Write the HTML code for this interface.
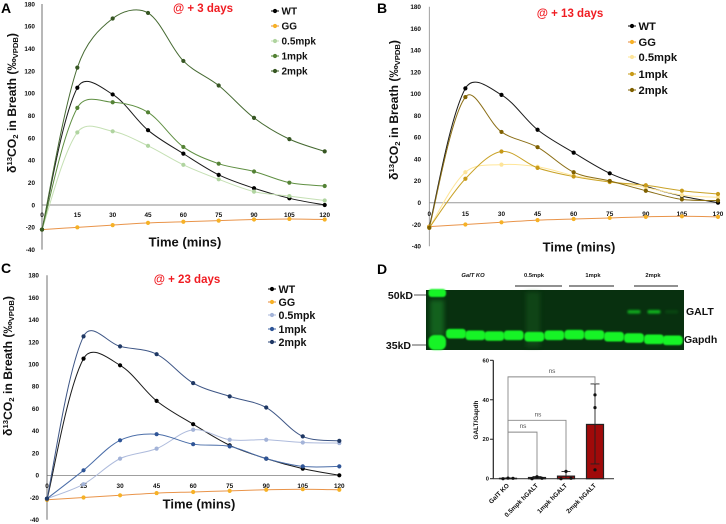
<!DOCTYPE html>
<html lang="en">
<head>
<meta charset="utf-8">
<title>Breath CO2 charts and GALT blot</title>
<style>
html,body{margin:0;padding:0;background:#fff;width:726px;height:524px;overflow:hidden}
svg{display:block;filter:blur(0.35px)}
text{font-family:"Liberation Sans",sans-serif;font-weight:bold;fill:#111}
</style>
</head>
<body>
<svg id="fig" xmlns="http://www.w3.org/2000/svg" width="726" height="524" viewBox="0 0 726 524">
<defs>
<filter id="soft" x="-40%" y="-60%" width="180%" height="220%"><feGaussianBlur stdDeviation="0.8"/></filter>
<filter id="softer" x="-60%" y="-100%" width="220%" height="300%"><feGaussianBlur stdDeviation="2.5"/></filter>
<filter id="galtblur" x="-60%" y="-150%" width="220%" height="400%"><feGaussianBlur stdDeviation="1.1"/></filter>
</defs>
</svg>
<script>
// ---- shared categories and tick labels ----
const timePoints = [0, 15, 30, 45, 60, 75, 90, 105, 120];
const yTicks = [-40, -20, 0, 20, 40, 60, 80, 100, 120, 140, 160, 180];
const seriesNames = ['WT', 'GG', '0.5mpk', '1mpk', '2mpk'];

// ---- panel A values ----
const aWT = [-22, 105, 99, 67, 46, 27, 15, 6, 0];
const aGG = [-22, -20, -18, -16, -15, -14, -13, -12.5, -13];
const aLow = [-22, 65, 66, 53, 36, 23, 12, 8, 4];
const aMid = [-22, 87, 92, 83, 52, 37, 30, 20, 17];
const aHigh = [-22, 123, 167, 172, 129, 107, 78, 59, 48];

// ---- panel B values ----
const bWT = [-22, 105, 99, 67, 46, 27, 15, 6, 0];
const bGG = [-22, -20, -18, -16, -15, -14, -13, -12.5, -13];
const bLow = [-23, 28, 35, 33, 25, 19, 14, 7, 5];
const bMid = [-23, 22, 47, 32, 24, 19, 16, 11, 8];
const bHigh = [-23, 97, 65, 51, 28, 20, 11, 3, 2];

// ---- panel C values ----
const cWT = [-22, 105, 99, 67, 46, 27, 15, 6, 0];
const cGG = [-22, -20, -18, -16, -15, -14, -13, -12.5, -13];
const cLow = [-21, -8, 15, 24, 41, 32, 32, 29.5, 29];
const cMid = [-21, 4.5, 31.5, 37, 28, 26, 15, 8, 8];
const cHigh = [-21, 125, 116, 109, 83, 71, 61, 35, 31];

// ---- bar chart values ----
const barCategories = ['GalT KO', '0.5mpk hGALT', '1mpk hGALT', '2mpk hGALT'];
const barMeans = [0.2, 0.6, 1.3, 27.5];
const barErrLow = [0.1, 0.1, 0, 7.5];
const barErrHigh = [0.4, 1.1, 3.7, 48];
const barPointsA = [0, 0, 0, 4.5];
const barPointsB = [0.3, 1, 3.7, 36];
const barPointsC = [0.2, 0.2, 0.2, 42.5];
const barTicks = [0, 20, 40, 60];

const NS = 'http://www.w3.org/2000/svg';
const fig = document.getElementById('fig');

function mk(tag, attrs, parent) {
  const el = document.createElementNS(NS, tag);
  for (const k in attrs) el.setAttribute(k, attrs[k]);
  (parent || fig).appendChild(el);
  return el;
}

function chord(a, b) {
  return Math.sqrt(Math.hypot(a[0] - b[0], a[1] - b[1])) || 0.001;
}

// Centripetal-weighted spline, close to spreadsheet "smoothed line" rendering
function smoothPath(pts) {
  let d = 'M' + pts[0][0].toFixed(2) + ' ' + pts[0][1].toFixed(2);
  for (let i = 0; i < pts.length - 1; i++) {
    const p0 = pts[Math.max(i - 1, 0)], p1 = pts[i], p2 = pts[i + 1], p3 = pts[Math.min(i + 2, pts.length - 1)];
    const mid = chord(p1, p2);
    const w1 = (i === 0 ? 0.5 : mid / (chord(p0, p1) + mid)) / 3;
    const w2 = (i === pts.length - 2 ? 0.5 : mid / (chord(p2, p3) + mid)) / 3;
    const c1x = p1[0] + (p2[0] - p0[0]) * w1, c1y = p1[1] + (p2[1] - p0[1]) * w1;
    const c2x = p2[0] - (p3[0] - p1[0]) * w2, c2y = p2[1] - (p3[1] - p1[1]) * w2;
    d += 'C' + c1x.toFixed(2) + ' ' + c1y.toFixed(2) + ' ' + c2x.toFixed(2) + ' ' + c2y.toFixed(2) + ' ' + p2[0].toFixed(2) + ' ' + p2[1].toFixed(2);
  }
  return d;
}

function drawPanel(cfg) {
  const g = mk('g', {});
  
  
  const xScale = v => cfg.x0 + (v / 120) * (cfg.x120 - cfg.x0);
  const yScale = v => cfg.y0 + (v / 180) * (cfg.y180 - cfg.y0);

  const yAxis = mk('line', {x1: cfg.x0, x2: cfg.x0, y1: yScale(180), y2: yScale(-40), stroke: cfg.axisColor, 'stroke-width': cfg.axisWidth}, g);
  
  
  const xAxis = mk('line', {x1: cfg.x0, x2: cfg.x120, y1: yScale(0), y2: yScale(0), stroke: cfg.zeroColor, 'stroke-width': cfg.zeroWidth}, g);
  
  

  yTicks.forEach(t => {
    const lab = mk('text', {x: cfg.yLabelX, y: yScale(t) + 2.3, 'text-anchor': 'end', 'font-size': 6.4, fill: '#333'}, g);
    
    
    lab.textContent = t;
  });
  timePoints.forEach(t => {
    const lab = mk('text', {x: xScale(t), y: cfg.xLabelY, 'text-anchor': 'middle', 'font-size': 6.4, fill: '#333'}, g);
    
    
    lab.textContent = t;
  });

  cfg.series.forEach((values, si) => {
    const style = cfg.styles[si];
    const pts = values.map((v, i) => [xScale(timePoints[i]), yScale(v)]);
    const line = mk('path', {d: smoothPath(pts), fill: 'none', stroke: style.line, 'stroke-width': style.w}, g);
    
    
    pts.forEach(p => {
      const dot = mk('circle', {cx: p[0], cy: p[1], r: 2.1, fill: style.dot}, g);
      
      
    });
  });

  seriesNames.forEach((name, i) => {
    const style = cfg.styles[i];
    const ly = cfg.legendY[i];
    const entry = mk('g', {}, g);
    
    
    mk('line', {x1: cfg.legendX - 4, x2: cfg.legendX + 4, y1: ly, y2: ly, stroke: style.line, 'stroke-width': 1.1}, entry);
    mk('circle', {cx: cfg.legendX, cy: ly, r: 2.1, fill: style.dot}, entry);
    const t = mk('text', {x: cfg.legendX + 6.5, y: ly + cfg.legendFont * 0.36, 'font-size': cfg.legendFont}, entry);
    t.textContent = name;
  });

  const title = mk('text', {x: cfg.titleX, y: cfg.titleY + 4, 'text-anchor': 'middle', 'font-size': cfg.titleFont, style: 'fill:#f01c22'}, g);
  
  
  title.textContent = cfg.title;

  const xTitle = mk('text', {x: cfg.xTitleX, y: cfg.xTitleY + 4.5, 'text-anchor': 'middle', 'font-size': 13}, g);
  
  
  xTitle.textContent = 'Time (mins)';

  const yTitle = mk('text', {transform: 'translate(' + (cfg.yTitleX + 4) + ' ' + cfg.yTitleY + ') rotate(-90)', 'text-anchor': 'middle', 'font-size': 12, textLength: 140, lengthAdjust: 'spacingAndGlyphs'}, g);
  
  
  [['δ', 12, 0], ['13', 7.5, -4], ['CO', 12, 4], ['2', 7.5, 2], [' in Breath (‰', 12, -2], ['VPDB', 7.5, 2], [')', 12, -2]].forEach(part => {
    const s = mk('tspan', {'font-size': part[1], dy: part[2]}, yTitle);
    s.textContent = part[0];
  });

  const letter = mk('text', {x: cfg.letterX, y: cfg.letterY, 'font-size': 14, style: 'fill:#000'}, g);
  
  
  letter.textContent = cfg.id;
}

const black = {line: '#1a1a1a', dot: '#000', w: 1};
const orange = {line: '#e9944a', dot: '#f6b126', w: 1};

drawPanel({
  id: 'A', title: '@ + 3 days', titleX: 203, titleY: 8, titleFont: 11.5,
  x0: 42, x120: 324.7, y0: 205, y180: 4,
  yLabelX: 35, xLabelY: 217, axisColor: '#b8b8b8', axisWidth: 2, zeroColor: '#666', zeroWidth: 0.7,
  series: [aWT, aGG, aLow, aMid, aHigh],
  styles: [black, orange, {line: '#c5e0b4', dot: '#b0d4a0', w: 1}, {line: '#5f8f42', dot: '#548235', w: 1}, {line: '#466a32', dot: '#375623', w: 1}],
  legendX: 275, legendY: [11, 26, 41, 56, 71], legendFont: 10,
  xTitleX: 185, xTitleY: 242, yTitleX: 12, yTitleY: 103, letterX: 1, letterY: 13
});

drawPanel({
  id: 'B', title: '@ + 13 days', titleX: 570, titleY: 13, titleFont: 11.5,
  x0: 429.3, x120: 718, y0: 202.7, y180: 6.7,
  yLabelX: 421, xLabelY: 216, axisColor: '#888', axisWidth: 0.8, zeroColor: '#999', zeroWidth: 1,
  series: [bWT, bGG, bLow, bMid, bHigh],
  styles: [black, orange, {line: '#ffe699', dot: '#fde49a', w: 1}, {line: '#c9a227', dot: '#c89a18', w: 1}, {line: '#8a6d14', dot: '#7f6000', w: 1}],
  legendX: 632, legendY: [26, 42, 57, 74, 90], legendFont: 11.2,
  xTitleX: 579, xTitleY: 247, yTitleX: 394, yTitleY: 110, letterX: 377, letterY: 13
});

drawPanel({
  id: 'C', title: '@ + 23 days', titleX: 187, titleY: 279, titleFont: 11.5,
  x0: 47, x120: 339.3, y0: 475.3, y180: 275.3,
  yLabelX: 39, xLabelY: 488, axisColor: '#b8b8b8', axisWidth: 2, zeroColor: '#666', zeroWidth: 0.7,
  series: [cWT, cGG, cLow, cMid, cHigh],
  styles: [black, orange, {line: '#aebbdc', dot: '#a3b3d8', w: 1}, {line: '#4a6da8', dot: '#2f5597', w: 1}, {line: '#3d5585', dot: '#1f3864', w: 1}],
  legendX: 272, legendY: [289, 302, 315, 329, 342], legendFont: 10.7,
  xTitleX: 199, xTitleY: 504, yTitleX: 8, yTitleY: 366, letterX: 1, letterY: 273
});

// ---- Panel D: western blot ----
(function () {
  const g = mk('g', {});
  
  
  const letter = mk('text', {x: 377, y: 274, 'font-size': 14, style: 'fill:#000'}, g);
  
  
  letter.textContent = 'D';

  const bg = mk('rect', {x: 426, y: 290, width: 258, height: 60, fill: '#08300f'}, g);
  
  
  mk('rect', {x: 526, y: 292, width: 14, height: 55, fill: '#17561f', opacity: 0.55, filter: 'url(#softer)'}, g);
  mk('rect', {x: 430, y: 300, width: 14, height: 36, fill: '#1f8a2a', opacity: 0.55, filter: 'url(#softer)'}, g);

  const laneX = [258, 316, 373, 431, 493, 553, 613, 673, 732, 792, 852, 908];
  const laneY = [215, 220, 222, 220, 224, 220, 218, 219, 224, 228, 232, 235];
  const band = '#16f426';
  mk('rect', {x: 428.5, y: 289, width: 17.5, height: 8, rx: 3, fill: band, filter: 'url(#soft)'}, g);
  mk('rect', {x: 428.5, y: 335, width: 17.5, height: 15, rx: 6, fill: band, filter: 'url(#soft)'}, g);
  laneX.forEach((lx, i) => {
    const b = mk('rect', {x: 370 + lx / 3 - 10, y: 262 + laneY[i] / 3 - 4.8, width: 20, height: 9.6, rx: 3.5, fill: band, filter: 'url(#soft)'}, g);
    
    
  });
  [[792, 0.6], [852, 0.65], [905, 0.1]].forEach(b => {
    const r = mk('rect', {x: 370 + b[0] / 3 - 6.5, y: 310, width: 13, height: 3.6, rx: 1.5, fill: band, opacity: b[1], filter: 'url(#galtblur)'}, g);
    
    
  });

  [['50kD', 295, 413], ['35kD', 345, 411]].forEach(m => {
    const t = mk('text', {x: m[2], y: m[1] + 4, 'text-anchor': 'end', 'font-size': 10.5}, g);
    
    
    t.textContent = m[0];
    mk('line', {x1: m[2] + 1, x2: 426, y1: m[1], y2: m[1], stroke: '#555', 'stroke-width': 1}, g);
  });
  [['GALT', 686, 315], ['Gapdh', 684, 343]].forEach(m => {
    const t = mk('text', {x: m[1], y: m[2], 'font-size': 10.5}, g);
    
    
    t.textContent = m[0];
  });
  [['GalT KO', 473, 'italic'], ['0.5mpk', 534, 'normal'], ['1mpk', 593, 'normal'], ['2mpk', 653, 'normal']].forEach(m => {
    const t = mk('text', {x: m[1], y: 277, 'text-anchor': 'middle', 'font-size': 5.8, 'font-style': m[2], fill: '#333'}, g);
    
    
    t.textContent = m[0];
  });
  [[515, 562], [569, 614], [634, 678]].forEach(m => {
    const l = mk('line', {x1: m[0], x2: m[1], y1: 286, y2: 286, stroke: '#222', 'stroke-width': 1}, g);
    
    
  });
})();

// ---- Panel D: bar chart ----
(function () {
  const g = mk('g', {});
  
  
  const yScale = v => 478.7 - (v / 60) * 118.4;
  const xScale = i => 508 + i * 29;

  const axisY = mk('line', {x1: 493.3, x2: 493.3, y1: yScale(60), y2: yScale(0), stroke: '#222', 'stroke-width': 1.2}, g);
  
  
  const axisX = mk('line', {x1: 493, x2: 614, y1: yScale(0), y2: yScale(0), stroke: '#444', 'stroke-width': 1.2}, g);
  
  

  barTicks.forEach(t => {
    mk('line', {x1: 490, x2: 493.3, y1: yScale(t), y2: yScale(t), stroke: '#222', 'stroke-width': 1}, g);
    const lab = mk('text', {x: 489, y: yScale(t) + 2, 'text-anchor': 'end', 'font-size': 5.8, fill: '#333'}, g);
    
    
    lab.textContent = t;
  });

  const yt = mk('text', {transform: 'translate(478 420) rotate(-90)', 'text-anchor': 'middle', 'font-size': 6.4}, g);
  
  
  yt.textContent = 'GALT/Gapdh';

  // significance brackets: end bar index, bracket value, label x offset, end value
  [[3, 51.6, 44, 48.5], [2, 29.6, 30, 3.8], [1, 23.6, 15, 1.5]].forEach(b => {
    const y = yScale(b[1]);
    const p = mk('path', {d: 'M' + xScale(0) + ' ' + yScale(0) + 'V' + y + 'H' + xScale(b[0]) + 'V' + yScale(b[3]), fill: 'none', stroke: '#888', 'stroke-width': 0.9}, g);
    
    
    const t = mk('text', {x: xScale(0) + b[2], y: y - 4, 'text-anchor': 'middle', 'font-size': 6.5, style: 'fill:#555;font-weight:normal'}, g);
    
    
    t.textContent = 'ns';
  });

  barCategories.forEach((name, i) => {
    const cx = xScale(i);
    const bar = mk('rect', {x: cx - 8.5, y: yScale(barMeans[i]), width: 17, height: yScale(0) - yScale(barMeans[i]), fill: '#a00a0a', stroke: '#222', 'stroke-width': 1.2}, g);
    
    
    const err = mk('path', {d: 'M' + cx + ' ' + yScale(barErrLow[i]) + 'V' + yScale(barErrHigh[i]) + 'M' + (cx - 4.5) + ' ' + yScale(barErrHigh[i]) + 'h9M' + (cx - 4.5) + ' ' + yScale(barErrLow[i]) + 'h9', fill: 'none', stroke: '#222', 'stroke-width': 0.9}, g);
    
    
    [[i === 3 ? 0 : -5, barPointsA[i]], [0, barPointsB[i]], [i === 3 ? 0 : 5, barPointsC[i]]].forEach(p => {
      const d = mk('circle', {cx: cx + p[0], cy: yScale(p[1]), r: 1.6, fill: '#111'}, g);
      
      
    });
    const lab = mk('text', {transform: 'translate(' + (cx + 1.5) + ' 486) rotate(-45)', 'text-anchor': 'end', 'font-size': 6.4, fill: '#333'}, g);
    
    
    lab.textContent = name;
  });
})();
</script>
</body>
</html>
